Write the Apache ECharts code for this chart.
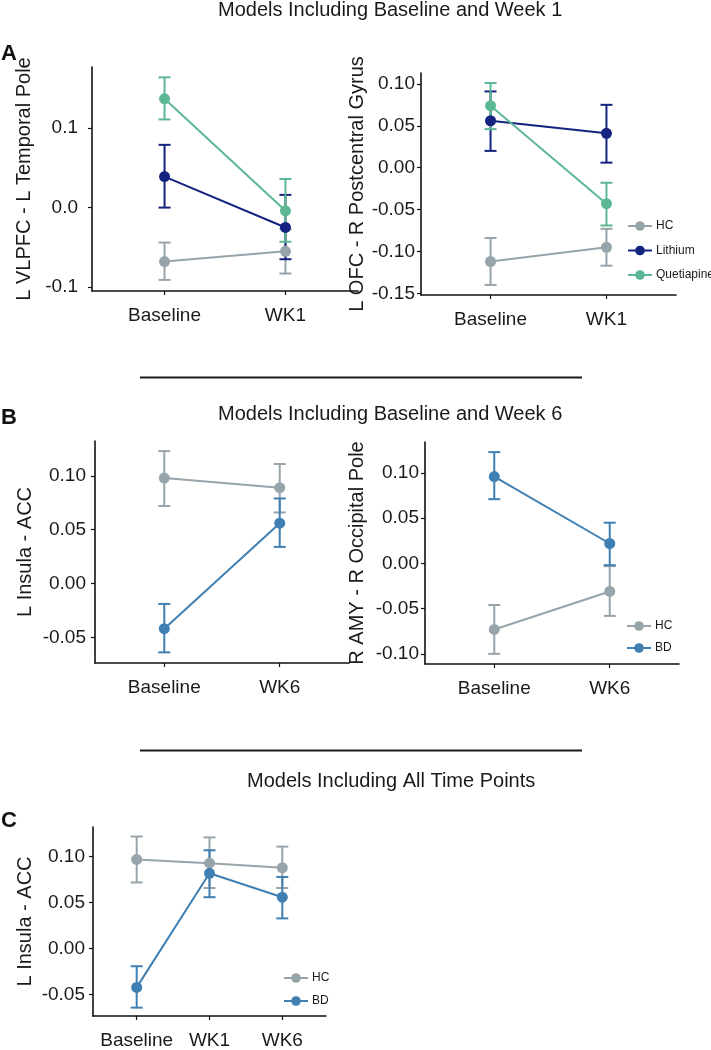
<!DOCTYPE html>
<html>
<head>
<meta charset="utf-8">
<script src="https://cdn.jsdelivr.net/npm/echarts@6/dist/echarts.min.js"></script>
<style>
html,body{margin:0;padding:0;background:#fff;}
#chart{width:711px;height:1050px;}
</style>
</head>
<body>
<div id="chart"></div>
<script>
// ---------- data ----------
const categoriesA = ['Baseline', 'WK1'];
const categoriesB = ['Baseline', 'WK6'];
const categoriesC = ['Baseline', 'WK1', 'WK6'];

const sectionTitles = ['Models Including Baseline and Week 1', 'Models Including Baseline and Week 6', 'Models Including All Time Points'];
const panelLetters = ['A', 'B', 'C'];

// Panel A left: L VLPFC - L Temporal Pole
const aL_HC_mean = [-0.068, -0.055], aL_HC_lo = [-0.091, -0.083], aL_HC_hi = [-0.044, -0.027];
const aL_Li_mean = [0.039, -0.025], aL_Li_lo = [0.000, -0.065], aL_Li_hi = [0.079, 0.016];
const aL_Qu_mean = [0.137, -0.004], aL_Qu_lo = [0.111, -0.043], aL_Qu_hi = [0.164, 0.036];
const aL_ticks = [-0.1, 0.0, 0.1];

// Panel A right: L OFC - R Postcentral Gyrus
const aR_HC_mean = [-0.112, -0.095], aR_HC_lo = [-0.140, -0.117], aR_HC_hi = [-0.084, -0.073];
const aR_Li_mean = [0.056, 0.041], aR_Li_lo = [0.020, 0.006], aR_Li_hi = [0.091, 0.075];
const aR_Qu_mean = [0.074, -0.043], aR_Qu_lo = [0.046, -0.069], aR_Qu_hi = [0.101, -0.018];
const aR_ticks = [-0.15, -0.10, -0.05, 0.00, 0.05, 0.10];

// Panel B left: L Insula - ACC
const bL_HC_mean = [0.098, 0.089], bL_HC_lo = [0.072, 0.066], bL_HC_hi = [0.123, 0.111];
const bL_BD_mean = [-0.042, 0.056], bL_BD_lo = [-0.064, 0.034], bL_BD_hi = [-0.019, 0.079];
const bL_ticks = [-0.05, 0.00, 0.05, 0.10];

// Panel B right: R AMY - R Occipital Pole
const bR_HC_mean = [-0.073, -0.031], bR_HC_lo = [-0.100, -0.058], bR_HC_hi = [-0.046, -0.003];
const bR_BD_mean = [0.096, 0.022], bR_BD_lo = [0.071, -0.002], bR_BD_hi = [0.123, 0.045];
const bR_ticks = [-0.10, -0.05, 0.00, 0.05, 0.10];

// Panel C: L Insula - ACC (all time points)
const c_HC_mean = [0.097, 0.093, 0.088], c_HC_lo = [0.072, 0.066, 0.066], c_HC_hi = [0.122, 0.121, 0.111];
const c_BD_mean = [-0.042, 0.082, 0.056], c_BD_lo = [-0.064, 0.056, 0.033], c_BD_hi = [-0.019, 0.107, 0.078];
const c_ticks = [-0.05, 0.00, 0.05, 0.10];

// ---------- styling ----------
const COLORS = { HC: '#97a4a9', Lithium: '#14237f', Quetiapine: '#5cb794', BD: '#3f7fb2' };
const FONT = 'Liberation Sans, Arial, sans-serif';

const panels = [
  { name: 'L VLPFC - L Temporal Pole', cats: categoriesA, ticks: aL_ticks, dec: 1,
    grid: { left: 92, top: 67, width: 266, height: 224 }, yMin: -0.105, yMax: 0.177, labelMargin: 14, nameGap: 58,
    groups: [['HC', aL_HC_mean, aL_HC_lo, aL_HC_hi], ['Lithium', aL_Li_mean, aL_Li_lo, aL_Li_hi], ['Quetiapine', aL_Qu_mean, aL_Qu_lo, aL_Qu_hi]] },
  { name: 'L OFC - R Postcentral Gyrus', cats: categoriesA, ticks: aR_ticks, dec: 2,
    grid: { left: 421, top: 73, width: 255, height: 222 }, yMin: -0.152, yMax: 0.113, labelMargin: 6, nameGap: 53,
    groups: [['HC', aR_HC_mean, aR_HC_lo, aR_HC_hi], ['Lithium', aR_Li_mean, aR_Li_lo, aR_Li_hi], ['Quetiapine', aR_Qu_mean, aR_Qu_lo, aR_Qu_hi]] },
  { name: 'L Insula - ACC', cats: categoriesB, ticks: bL_ticks, dec: 2,
    grid: { left: 95, top: 441, width: 254, height: 222 }, yMin: -0.0739, yMax: 0.1324, labelMargin: 9, nameGap: 60,
    groups: [['HC', bL_HC_mean, bL_HC_lo, bL_HC_hi], ['BD', bL_BD_mean, bL_BD_lo, bL_BD_hi]] },
  { name: 'R AMY - R Occipital Pole', cats: categoriesB, ticks: bR_ticks, dec: 2,
    grid: { left: 425, top: 442, width: 254, height: 222 }, yMin: -0.1112, yMax: 0.1342, labelMargin: 6, nameGap: 58,
    groups: [['HC', bR_HC_mean, bR_HC_lo, bR_HC_hi], ['BD', bR_BD_mean, bR_BD_lo, bR_BD_hi]] },
  { name: 'L Insula - ACC', cats: categoriesC, ticks: c_ticks, dec: 2,
    grid: { left: 93, top: 827, width: 233, height: 192 }, yMin: -0.0731, yMax: 0.1323, labelMargin: 8, nameGap: 58,
    groups: [['HC', c_HC_mean, c_HC_lo, c_HC_hi], ['BD', c_BD_mean, c_BD_lo, c_BD_hi]] }
];

const grids = [], xAxes = [], yAxes = [], series = [];
panels.forEach((p, i) => {
  grids.push(Object.assign({ containLabel: false }, p.grid));
  const xTicks = p.cats.map((c, k) => k + 1);
  xAxes.push({
    type: 'value', gridIndex: i, min: 0.4, max: p.cats.length + 0.6,
    splitLine: { show: false },
    axisLine: { show: true, onZero: false, lineStyle: { color: '#111', width: 1.6 } },
    axisTick: { show: true, length: 4, customValues: xTicks, lineStyle: { color: '#111', width: 1.2 } },
    axisLabel: { customValues: xTicks, margin: 15, fontSize: 19, fontFamily: FONT, color: '#1a1a1a',
      formatter: v => p.cats[Math.round(v) - 1] || '' }
  });
  yAxes.push({
    type: 'value', gridIndex: i, min: p.yMin, max: p.yMax,
    name: p.name, nameLocation: 'middle', nameRotate: 90, nameGap: p.nameGap,
    nameTextStyle: { fontSize: 20, fontFamily: FONT, color: '#1a1a1a' },
    splitLine: { show: false },
    axisLine: { show: true, onZero: false, lineStyle: { color: '#111', width: 1.6 } },
    axisTick: { show: true, length: 4, customValues: p.ticks, lineStyle: { color: '#111', width: 1.2 } },
    axisLabel: { customValues: p.ticks, margin: p.labelMargin, fontSize: 19, fontFamily: FONT, color: '#1a1a1a',
      formatter: v => (Math.abs(v) < 1e-9 ? 0 : v).toFixed(p.dec) }
  });
  p.groups.forEach(([gname, mean, lo, hi]) => {
    const col = COLORS[gname];
    series.push({
      type: 'custom', name: gname + ' SE', xAxisIndex: i, yAxisIndex: i, z: 2, silent: true,
      data: mean.map((m, k) => [k + 1, lo[k], hi[k]]),
      renderItem: (params, api) => {
        const a = api.coord([api.value(0), api.value(1)]);
        const b = api.coord([api.value(0), api.value(2)]);
        const hw = 6;
        const st = { stroke: col, lineWidth: 2 };
        return { type: 'group', children: [
          { type: 'line', shape: { x1: a[0], y1: a[1], x2: b[0], y2: b[1] }, style: st },
          { type: 'line', shape: { x1: a[0] - hw, y1: a[1], x2: a[0] + hw, y2: a[1] }, style: st },
          { type: 'line', shape: { x1: b[0] - hw, y1: b[1], x2: b[0] + hw, y2: b[1] }, style: st }
        ] };
      }
    });
    series.push({
      type: 'line', name: gname, xAxisIndex: i, yAxisIndex: i, z: 3,
      data: mean.map((m, k) => [k + 1, m]),
      symbol: 'circle', symbolSize: 11, showSymbol: true,
      lineStyle: { color: col, width: 2 }, itemStyle: { color: col },
      animation: false
    });
  });
});

const legendCommon = {
  orient: 'vertical', itemWidth: 24, itemHeight: 12, selectedMode: false, padding: 0,
  textStyle: { fontSize: 12, fontFamily: FONT, color: '#1a1a1a', padding: [0, 0, 0, -1] }
};
const legends = [
  Object.assign({ left: 627, top: 220, itemGap: 12.5, data: ['HC', 'Lithium', 'Quetiapine'] }, legendCommon),
  Object.assign({ left: 626, top: 620, itemGap: 10, data: ['HC', 'BD'] }, legendCommon),
  Object.assign({ left: 283, top: 972, itemGap: 11, data: ['HC', 'BD'] }, legendCommon)
];

const titleX = [218, 218, 247];
const titleY = [11, 415, 782];
const letterY = [54, 418, 821];
const graphic = [];
sectionTitles.forEach((t, i) => {
  graphic.push({ type: 'text', x: titleX[i], y: titleY[i] - 11,
    style: { text: t, font: '20px ' + FONT, fill: '#1a1a1a' } });
});
panelLetters.forEach((l, i) => {
  graphic.push({ type: 'text', x: 1, y: letterY[i] - 11, style: { text: l, font: 'bold 22px ' + FONT, fill: '#111' } });
});
[377.5, 750.5].forEach(y => {
  graphic.push({ type: 'line', shape: { x1: 140, y1: y, x2: 582, y2: y }, style: { stroke: '#1a1a1a', lineWidth: 2 } });
});

const chart = echarts.init(document.getElementById('chart'), null, { renderer: 'canvas' });
chart.setOption({
  animation: false,
  backgroundColor: '#fff',
  grid: grids, xAxis: xAxes, yAxis: yAxes, series: series,
  legend: legends,
  graphic: graphic
});
</script>
</body>
</html>
